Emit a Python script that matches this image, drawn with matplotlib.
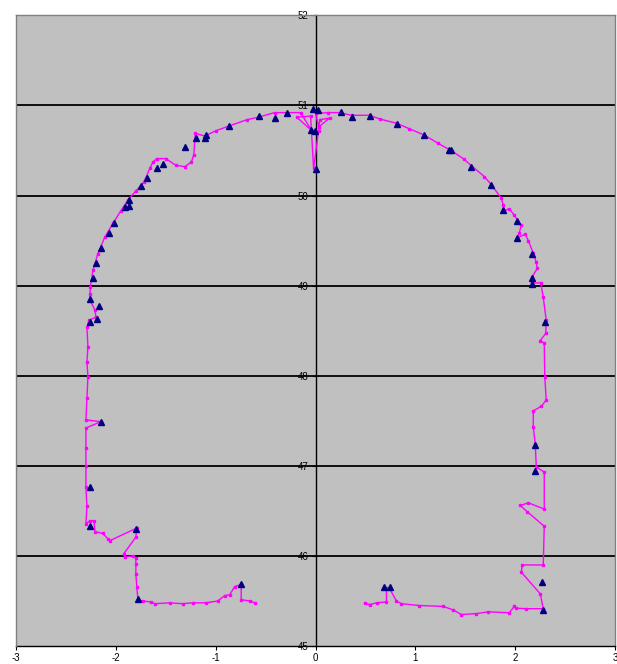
import numpy as np
import matplotlib
matplotlib.use("Agg")
import matplotlib.pyplot as plt
from matplotlib.lines import Line2D

# surveyed profile trace (offset from axis, elevation)
trace_x = [
    -0.61, -0.66, -0.745, -0.745, -0.81, -0.86, -0.91, -0.98, -1.10, -1.23,
    -1.33, -1.46, -1.61, -1.65, -1.73, -1.78, -1.79, -1.80, -1.80, -1.80,
    -1.83, -1.91, -1.92, -1.80, -1.79, -2.06, -2.08, -2.13, -2.21, -2.22,
    -2.26, -2.30, -2.29, -2.30, -2.30, -2.30, -2.30, -2.15, -2.30, -2.29,
    -2.28, -2.29, -2.28, -2.29, -2.27, -2.20, -2.21, -2.26, -2.26, -2.255,
    -2.23, -2.18, -2.11, -2.03, -1.95, -1.88, -1.80, -1.72, -1.66, -1.63,
    -1.59, -1.50, -1.40, -1.31, -1.245, -1.22, -1.205, -1.11, -0.995, -0.87,
    -0.69, -0.57, -0.41, -0.29, -0.15, -0.04, -0.19, -0.05, -0.02, 0.03,
    0.04, 0.14, 0.03, 0.00, 0.12, 0.24, 0.36, 0.54, 0.64, 0.815,
    0.94, 1.09, 1.225, 1.37, 1.49, 1.56, 1.69, 1.76, 1.86, 1.88,
    1.89, 1.94, 1.99, 2.06, 2.04, 2.02, 2.10, 2.13, 2.18, 2.21,
    2.22, 2.17, 2.17, 2.255, 2.28, 2.31, 2.305, 2.25, 2.29, 2.295,
    2.31, 2.26, 2.18, 2.18, 2.20, 2.21, 2.29, 2.29, 2.13, 2.05,
    2.12, 2.29, 2.28, 2.07, 2.06, 2.25, 2.28, 2.11, 2.01, 1.99,
    1.94, 1.73, 1.61, 1.46, 1.38, 1.28, 1.04, 0.86, 0.81, 0.74,
    0.71, 0.71, 0.61, 0.54, 0.49,
]
trace_y = [
    45.48, 45.50, 45.515, 45.685, 45.66, 45.57, 45.56, 45.50, 45.48, 45.48,
    45.47, 45.48, 45.47, 45.49, 45.50, 45.515, 45.655, 45.80, 45.91, 45.98,
    46.00, 45.99, 46.025, 46.21, 46.31, 46.17, 46.19, 46.25, 46.27, 46.39,
    46.39, 46.36, 46.55, 46.76, 47.00, 47.20, 47.42, 47.49, 47.51, 47.75,
    47.99, 48.15, 48.32, 48.54, 48.615, 48.65, 48.73, 48.84, 48.91, 48.99,
    49.17, 49.355, 49.54, 49.69, 49.83, 49.95, 50.05, 50.15, 50.30, 50.37,
    50.41, 50.41, 50.335, 50.32, 50.37, 50.45, 50.69, 50.66, 50.72, 50.77,
    50.84, 50.87, 50.92, 50.92, 50.92, 50.72, 50.87, 50.88, 50.30, 50.72,
    50.84, 50.86, 50.76, 50.91, 50.92, 50.92, 50.89, 50.89, 50.85, 50.80,
    50.74, 50.67, 50.58, 50.49, 50.40, 50.33, 50.21, 50.12, 49.97, 49.89,
    49.83, 49.855, 49.78, 49.67, 49.585, 49.53, 49.57, 49.50, 49.36, 49.26,
    49.19, 49.10, 49.03, 49.03, 48.87, 48.615, 48.47, 48.39, 48.36, 47.99,
    47.73, 47.66, 47.61, 47.43, 47.24, 46.99, 46.93, 46.52, 46.59, 46.56,
    46.49, 46.33, 45.90, 45.90, 45.82, 45.58, 45.415, 45.415, 45.42, 45.44,
    45.37, 45.38, 45.36, 45.35, 45.40, 45.44, 45.45, 45.47, 45.50, 45.64,
    45.64, 45.49, 45.48, 45.46, 45.48,
]

# design profile points
design_x = [
    -0.745, -1.78, -1.80, -2.26, -2.255, -2.15, -2.26, -2.19, -2.17, -2.255,
    -2.23, -2.20, -2.15, -2.07, -2.02, -1.91, -1.87, -1.87, -1.75, -1.69,
    -1.59, -1.53, -1.31, -1.195, -1.11, -1.10, -0.87, -0.57, -0.41, -0.29,
    -0.03, 0.02, -0.045, -0.005, 0.00, 0.25, 0.365, 0.54, 0.815, 1.09,
    1.34, 1.36, 1.56, 1.76, 1.88, 2.02, 2.02, 2.17, 2.165, 2.165,
    2.295, 2.20, 2.20, 2.27, 2.28, 0.75, 0.685,
]
design_y = [
    45.685, 45.52, 46.30, 46.33, 46.77, 47.49, 48.60, 48.63, 48.77, 48.85,
    49.08, 49.25, 49.42, 49.58, 49.695, 49.87, 49.88, 49.95, 50.11, 50.19,
    50.31, 50.35, 50.54, 50.64, 50.64, 50.67, 50.77, 50.88, 50.86, 50.92,
    50.96, 50.945, 50.73, 50.72, 50.29, 50.93, 50.87, 50.88, 50.79, 50.67,
    50.51, 50.50, 50.32, 50.12, 49.835, 49.72, 49.53, 49.355, 49.09, 49.02,
    48.60, 47.235, 46.94, 45.71, 45.40, 45.655, 45.655,
]

x_ticks = [-3, -2, -1, 0, 1, 2, 3]
y_ticks = [45, 46, 47, 48, 49, 50, 51, 52]

plt.rcParams["font.family"] = ["Liberation Sans", "DejaVu Sans"]

fig = plt.figure(figsize=(6.17, 6.64), dpi=100, facecolor="white")
ax = fig.add_axes([0.026, 0.027, 0.971, 0.950])
ax.set_facecolor("#C0C0C0")
ax.set_xlim(-3, 3)
ax.set_ylim(45, 52)

for yv in y_ticks[1:-1]:
    ax.axhline(yv, color="black", lw=1.3, zorder=1)

ax.plot(trace_x, trace_y, color="#FF00FF", lw=1.0, marker="s", ms=1.8,
        mec="#FF00FF", mfc="#FF00FF", zorder=3)
ax.plot(design_x, design_y, ls="none", marker="^", ms=5, color="#000080",
        mec="#000080", zorder=4)

ax.spines["left"].set_position(("data", 0))
ax.spines["left"].set_color("black")
ax.spines["left"].set_linewidth(1.0)
ax.spines["bottom"].set_color("black")
ax.spines["bottom"].set_linewidth(1.0)
for side in ["top", "right"]:
    ax.spines[side].set_color("#808080")
    ax.spines[side].set_linewidth(1.0)
ax.add_line(Line2D([0, 0], [0, 1], transform=ax.transAxes, color="#808080",
                   lw=1.0, zorder=5, clip_on=False))

ax.set_xticks(x_ticks)
ax.set_yticks(y_ticks)
ax.set_xticklabels([str(v) for v in x_ticks])
ax.set_yticklabels([str(v) for v in y_ticks])
ax.tick_params(axis="both", length=3, width=0.8, labelsize=7, pad=2,
               colors="black")

fig.savefig("out.png", dpi=100, facecolor="white")
